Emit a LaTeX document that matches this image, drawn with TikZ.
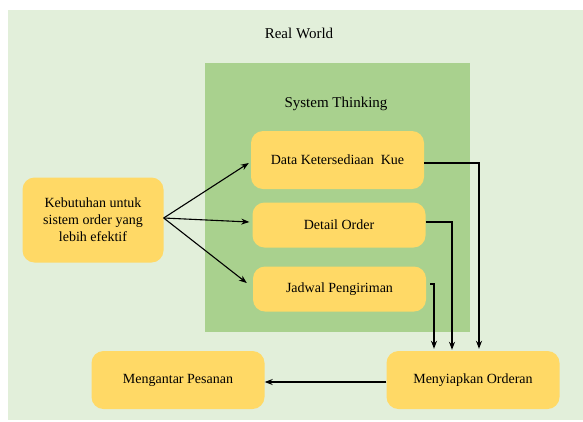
\documentclass[tikz,border=0pt]{standalone}
\usepackage{fontspec}
\setmainfont{Liberation Serif}
\usetikzlibrary{arrows.meta,calc}
\definecolor{bgl}{HTML}{E2EFDA}
\definecolor{bgg}{HTML}{A9D18E}
\definecolor{boxy}{HTML}{FFD966}
\begin{document}
\begin{tikzpicture}[x=1pt,y=-1pt,
  box/.style={rounded corners=12pt, fill=boxy, draw=none, align=center, inner sep=0pt,
    font=\fontsize{14}{17}\selectfont},
  title/.style={font=\fontsize{15}{18}\selectfont},
  conn/.style={draw=black, line width=1.1pt, -{Stealth[length=8pt,width=6pt]}}]
\useasboundingbox (0,0) rectangle (583,421);
\fill[bgl] (8,10) rectangle (583,420);
\fill[bgg] (205,63) rectangle (470,332);
\node[title] (rw) at (299,33) {Real World};
\node[title] (st) at (336,104) {System Thinking};
\node[box, minimum width=141pt, minimum height=85pt] (keb) at (93,220) {Kebutuhan untuk\\sistem order yang\\lebih efektif};
\node[box, minimum width=173pt, minimum height=58pt] (data) at (337.5,160) {Data Ketersediaan~~Kue};
\node[box, minimum width=173pt, minimum height=45pt] (det) at (339,225) {Detail Order};
\node[box, minimum width=173pt, minimum height=45pt] (jad) at (339.5,289) {Jadwal Pengiriman};
\node[box, minimum width=173pt, minimum height=58pt] (ant) at (178,380) {Mengantar Pesanan};
\node[box, minimum width=173pt, minimum height=58pt] (sia) at (473,380) {Menyiapkan Orderan};
\coordinate (ks) at ($(keb.east)+(0,-2)$);
\draw[conn] (ks) -- ($(data.west)+(-2,3)$);
\draw[conn] (ks) -- ($(det.west)+(-3,-3)$);
\draw[conn] (ks) -- ($(jad.west)+(-6,-6)$);
\draw[conn] ($(data.east)+(0,3)$) -| ($(sia.north)+(6,-2)$);
\draw[conn] ($(det.east)+(0,-3)$) -| ($(sia.north)+(-21,-1)$);
\draw[conn] ($(jad.east)+(4,-5)$) -| ($(sia.north)+(-39,-2)$);
\draw[conn] ($(sia.west)+(0,2)$) -- ($(ant.east)+(0,2)$);
\end{tikzpicture}
\end{document}
